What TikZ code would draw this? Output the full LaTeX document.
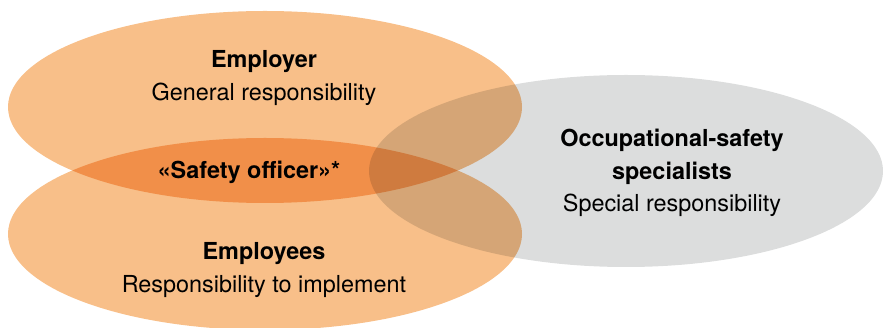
\documentclass[tikz,border=0pt]{standalone}
\usepackage{fontspec}
\setmainfont{TeX Gyre Heros}
\usepackage{tikz}
\newcommand{\erx}{257}
\newcommand{\ery}{96}
\definecolor{orangepale}{HTML}{F8BF89}
\definecolor{grispale}{HTML}{DCDDDD}
\tikzstyle{texte}=[align=center, inner sep=0, font=\fontsize{23.4}{32.5}\selectfont]
\tikzstyle{titre}=[texte, font=\fontsize{23.4}{32.5}\selectfont\bfseries]
\begin{document}
\begin{tikzpicture}[x=1pt,y=-1pt]
\useasboundingbox (0,0) rectangle (883,328);
\clip (0,0) rectangle (883,328);

% les trois ellipses
\begin{scope}[blend group=multiply]
\fill[orangepale] (265,107) ellipse [x radius=\erx, y radius=\ery];
\fill[orangepale] (265,234) ellipse [x radius=\erx, y radius=\ery];
\fill[grispale] (626,171) ellipse [x radius=\erx, y radius=\ery];
\end{scope}

% textes
\node[texte] (employer) at (264,78) {\textbf{Employer}\\General responsibility};
\node[texte] (employees) at (264,270) {\textbf{Employees}\\Responsibility to implement};
\node[titre] (officer) at (249,172) {«Safety officer»*};
\node[texte] (specialists) at (672,173) {\textbf{Occupational-safety}\\\textbf{specialists}\\Special responsibility};
\end{tikzpicture}
\end{document}
